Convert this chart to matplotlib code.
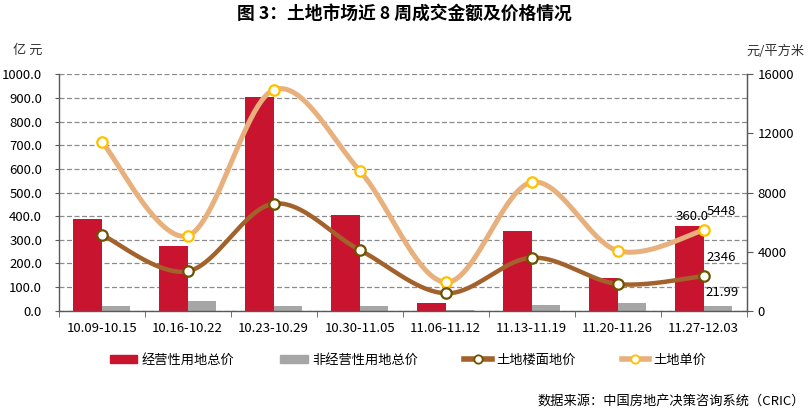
import matplotlib
matplotlib.use("Agg")
import matplotlib.pyplot as plt
import numpy as np
from matplotlib.patches import Patch
from matplotlib.lines import Line2D

plt.rcParams['font.family'] = ['Noto Sans CJK SC', 'DejaVu Sans']

weeks = ['10.09-10.15', '10.16-10.22', '10.23-10.29', '10.30-11.05',
         '11.06-11.12', '11.13-11.19', '11.20-11.26', '11.27-12.03']
biz_total = [386, 274, 905, 405, 31, 337, 137, 360.0]       # 经营性用地总价 (亿元)
nonbiz_total = [19, 43, 19, 19, 5, 24, 32, 21.99]           # 非经营性用地总价 (亿元)
floor_price = [5146, 2667, 7244, 4110, 1178, 3588, 1808, 2346]   # 土地楼面地价
unit_price = [11440, 5078, 14943, 9479, 1923, 8693, 4062, 5448]  # 土地单价

RED = '#C9142F'
GRAY = '#A6A6A6'
BROWN = '#A3622B'
BROWN_EDGE = '#6E5200'
TAN = '#E8B07D'
GOLD = '#FFC000'


def smooth(xv, yv, n=40):
    # Catmull-Rom style bezier smoothing, like Excel's smoothed lines
    xv = np.asarray(xv, float)
    yv = np.asarray(yv, float)
    px = np.concatenate([[xv[0]], xv, [xv[-1]]])
    py = np.concatenate([[yv[0]], yv, [yv[-1]]])
    t = np.linspace(0, 1, n)
    xs, ys = [], []
    for i in range(len(xv) - 1):
        p0 = np.array([px[i + 1], py[i + 1]])
        p3 = np.array([px[i + 2], py[i + 2]])
        c1 = p0 + (np.array([px[i + 2], py[i + 2]]) - np.array([px[i], py[i]])) / 6
        c2 = p3 - (np.array([px[i + 3], py[i + 3]]) - np.array([px[i + 1], py[i + 1]])) / 6
        b = ((1 - t) ** 3)[:, None] * p0 + (3 * (1 - t) ** 2 * t)[:, None] * c1 \
            + (3 * (1 - t) * t ** 2)[:, None] * c2 + (t ** 3)[:, None] * p3
        xs.append(b[:, 0])
        ys.append(b[:, 1])
    return np.concatenate(xs), np.concatenate(ys)


fig = plt.figure(figsize=(8.08, 4.16), dpi=100)
ax = fig.add_axes([0.0727, 0.2531, 0.8513, 0.5683])
x = np.arange(len(weeks))
w = 0.333

ax.bar(x - w / 2, biz_total, w, color=RED, zorder=2)
ax.bar(x + w / 2, nonbiz_total, w, color=GRAY, zorder=2)
ax.set_xlim(-0.5, len(weeks) - 0.5)
ax.set_ylim(0, 1000)
ax.set_yticks(np.arange(0, 1001, 100))
ax.set_yticklabels([f'{v:.1f}' for v in np.arange(0, 1001, 100)])
ax.set_axisbelow(True)
ax.yaxis.grid(True, linestyle=(0, (4, 2)), color='#8C8C8C', lw=0.9)
ax.set_xticks(x)
ax.set_xticklabels(weeks)
ax.set_xticks(np.arange(-0.5, len(weeks)), minor=True)
ax.tick_params(axis='x', which='major', length=0, pad=8, labelsize=9.5, colors='#000000')
ax.tick_params(axis='x', which='minor', length=4, direction='out', color='#595959')
ax.tick_params(axis='y', length=3, pad=9, labelsize=9.5, color='#595959')
ax.spines['top'].set_visible(False)
for s in ['left', 'bottom', 'right']:
    ax.spines[s].set_color('#595959')
    ax.spines[s].set_linewidth(1.0)

ax2 = ax.twinx()
ax2.set_ylim(0, 16000)
ax2.set_yticks([0, 4000, 8000, 12000, 16000])
ax2.tick_params(axis='y', length=4, pad=4, labelsize=9.5, color='#595959')
for s in ['top', 'left', 'bottom']:
    ax2.spines[s].set_visible(False)
ax2.spines['right'].set_color('#595959')

sx, sy = smooth(x, unit_price)
ax2.plot(sx, sy, color=TAN, lw=3.6, solid_capstyle='round', zorder=3)
ax2.plot(x, unit_price, 'o', ms=7.5, mfc='white', mec=GOLD, mew=1.6, zorder=4)
sx, sy = smooth(x, floor_price)
ax2.plot(sx, sy, color=BROWN, lw=3.2, solid_capstyle='round', zorder=3)
ax2.plot(x, floor_price, 'o', ms=7.5, mfc='white', mec=BROWN_EDGE, mew=1.6, zorder=4)

# data labels on the last week
i = len(weeks) - 1
ax.annotate(f'{biz_total[i]:.1f}', (x[i] - w / 2, biz_total[i]), xytext=(2, 2),
            textcoords='offset points', ha='center', va='bottom', fontsize=9.5)
ax.annotate(f'{nonbiz_total[i]:.2f}', (x[i] + w / 2, nonbiz_total[i]), xytext=(3, 5),
            textcoords='offset points', ha='center', va='bottom', fontsize=9.5)
ax2.annotate(f'{unit_price[i]}', (x[i], unit_price[i]), xytext=(2, 9),
             textcoords='offset points', ha='left', va='bottom', fontsize=9.5)
ax2.annotate(f'{floor_price[i]}', (x[i], floor_price[i]), xytext=(2, 9),
             textcoords='offset points', ha='left', va='bottom', fontsize=9.5)

fig.text(0.5, 1 - 14 / 416, '图 3：土地市场近 8 周成交金额及价格情况', ha='center', va='center',
         fontsize=12.8, fontweight='bold')
fig.text(28 / 808, 1 - 50 / 416, '亿 元', ha='center', va='center', fontsize=9.5, color='#333333')
fig.text(775 / 808, 1 - 51 / 416, '元/平方米', ha='center', va='center', fontsize=9.5, color='#333333')
fig.text(805 / 808, 1 - 401 / 416, '数据来源：中国房地产决策咨询系统（CRIC）', ha='right', va='center',
         fontsize=9.5)

handles = [
    Patch(color=RED, label='经营性用地总价'),
    Patch(color=GRAY, label='非经营性用地总价'),
    Line2D([], [], color=BROWN, lw=4, marker='o', ms=6, mfc='white', mec=BROWN_EDGE, mew=1.3,
           label='土地楼面地价'),
    Line2D([], [], color=TAN, lw=4, marker='o', ms=6, mfc='white', mec=GOLD, mew=1.3,
           label='土地单价'),
]
fig.legend(handles=handles, loc='center', bbox_to_anchor=(408 / 808, 1 - 360 / 416), ncol=4,
           frameon=False, fontsize=9.5, handlelength=2.1, handleheight=0.5, handletextpad=0.3,
           columnspacing=3.5)

fig.savefig('out.png', dpi=100)
